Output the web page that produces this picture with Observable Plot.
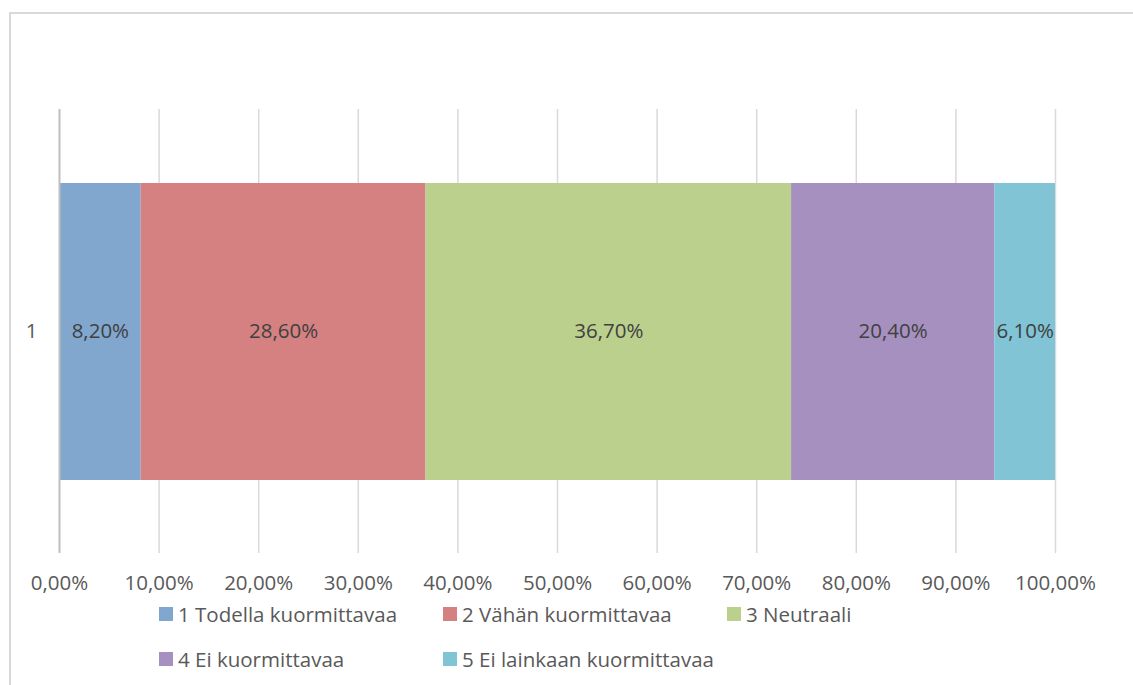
<!DOCTYPE html>
<html>
<head>
<meta charset="utf-8">
<script src="https://cdn.jsdelivr.net/npm/d3@7"></script>
<script src="https://cdn.jsdelivr.net/npm/@observablehq/plot@0.6"></script>
<style>
  html, body { margin: 0; padding: 0; background: #fff; overflow: hidden; }
  #wrap { position: relative; width: 1133px; height: 685px; overflow: hidden; font-family: "Open Sans", sans-serif; }
  #frame { position: absolute; left: 9px; top: 12px; width: 1300px; height: 900px; border: 2px solid #d9d9d9; box-sizing: border-box; }
  #chart { position: absolute; left: 0; top: 0; }
  .lg { position: absolute; display: flex; align-items: center; font-size: 20.5px; color: #595959; white-space: nowrap; }
  .lg .sw { width: 14px; height: 14px; margin-right: 5px; display: inline-block; }
</style>
</head>
<body>
<div id="wrap">
  <div id="frame"></div>
  <div id="chart"></div>
  <div id="legend"></div>
</div>
<script>
const categories = ["1 Todella kuormittavaa", "2 Vähän kuormittavaa", "3 Neutraali", "4 Ei kuormittavaa", "5 Ei lainkaan kuormittavaa"];
const values = [8.2, 28.6, 36.7, 20.4, 6.1];
const colors = ["#81a7cf", "#d58181", "#bcd08e", "#a690bf", "#81c4d5"];
const rowLabel = "1";
const xTicks = [0, 10, 20, 30, 40, 50, 60, 70, 80, 90, 100];

const data = categories.map((c, i) => ({cat: c, row: rowLabel, value: values[i]}));
const fmt = (d, k) => d.toFixed(k).replace(".", ",") + "%";

const plot = Plot.plot({
  width: 1133,
  height: 600,
  marginLeft: 59,
  marginRight: 78,
  marginTop: 109,
  marginBottom: 47,
  style: { fontFamily: "Open Sans, sans-serif", fontSize: "20.5px", color: "#595959", background: "transparent" },
  x: { domain: [0, 100], ticks: xTicks, tickFormat: d => fmt(d, 2), tickSize: 0, tickPadding: 22, label: null },
  y: { domain: [rowLabel], padding: 0, tickSize: 0, tickPadding: 22, label: null },
  color: { domain: categories, range: colors },
  marks: [
    Plot.ruleX(xTicks.filter(d => d !== 0), { stroke: "#d9d9d9", strokeWidth: 1.5 }),
    Plot.barX(data, Plot.stackX({ x: "value", y: "row", fill: "cat", order: null, insetTop: 74, insetBottom: 73 })),
    Plot.ruleX([0], { stroke: "#bfbfbf", strokeWidth: 2 }),
    Plot.text(data, Plot.stackX({ x: "value", y: "row", order: null, text: d => fmt(d.value, 2), fill: "#404040", fontSize: 20.5 })),
    Plot.axisX({ ticks: xTicks, tickFormat: d => fmt(d, 2), tickSize: 0, tickPadding: 22, fill: "#595959", label: null }),
    Plot.axisY({ tickSize: 0, tickPadding: 22, fill: "#595959", label: null })
  ]
});
document.getElementById("chart").appendChild(plot);

const legendPos = [
  {x: 159, y: 614}, {x: 443, y: 614}, {x: 727, y: 614},
  {x: 159, y: 659}, {x: 443, y: 659}
];
const lg = document.getElementById("legend");
categories.forEach((c, i) => {
  const el = document.createElement("div");
  el.className = "lg";
  el.style.left = legendPos[i].x + "px";
  el.style.top = (legendPos[i].y - 14) + "px";
  el.style.height = "28px";
  el.innerHTML = `<span class="sw" style="background:${colors[i]}"></span><span>${c}</span>`;
  lg.appendChild(el);
});
</script>
</body>
</html>
